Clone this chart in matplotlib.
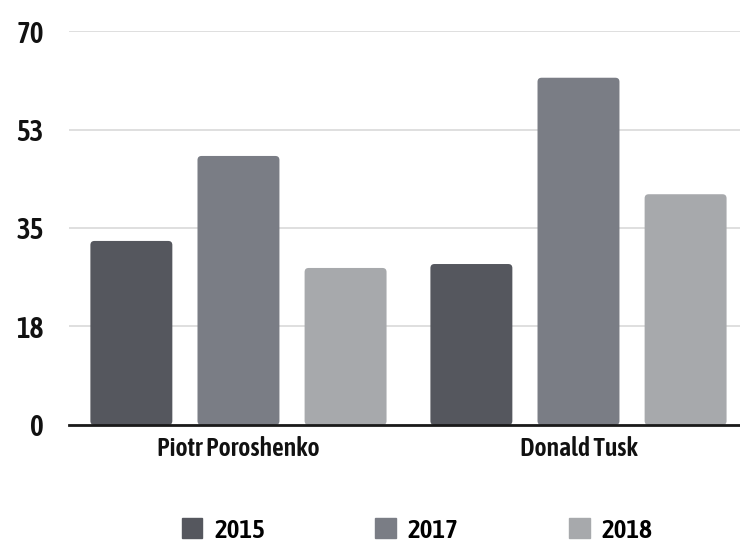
import matplotlib
matplotlib.use("Agg")
import matplotlib.pyplot as plt
from matplotlib import font_manager
from matplotlib.patches import FancyBboxPatch, Patch
import numpy as np

# données
categories = ["Piotr Poroshenko", "Donald Tusk"]
years = ["2015", "2017", "2018"]
values = {
    "2015": [32.7, 28.6],
    "2017": [47.8, 61.7],
    "2018": [27.9, 41.0],
}
ytick_pos = [0, 17.5, 35, 52.5, 70]
ytick_lab = ["0", "18", "35", "53", "70"]

colors = {"2015": "#55575e", "2017": "#7a7d85", "2018": "#a7a9ac"}


def _w(f):
    w = f.weight
    if isinstance(w, str):
        w = {"bold": 700, "semibold": 600, "demibold": 600, "heavy": 800,
             "black": 900, "medium": 500}.get(w.lower(), 400)
    return w


# police étroite demi-grasse si disponible
narrow = [f for f in font_manager.fontManager.ttflist
          if ("narrow" in f.name.lower() or "condensed" in f.name.lower())
          and f.style == "normal"]
cands = sorted([f for f in narrow if 500 <= _w(f) <= 750], key=lambda f: abs(_w(f) - 590))
font_file = None
if cands:
    font_file = cands[0].fname
elif narrow:
    font_file = narrow[0].fname

if font_file:
    fp = font_manager.FontProperties(fname=font_file)
else:
    fp = font_manager.FontProperties(family="DejaVu Sans", weight="bold")
k = 1.0 if font_file else 0.8


def fprop(size):
    p = fp.copy()
    p.set_size(size * k)
    return p


fig = plt.figure(figsize=(7.4, 5.49), dpi=100)
ax = fig.add_axes([0.0932, 0.2259, 0.9068, 0.7176])

x = np.arange(len(categories))
step, width = 0.315, 0.241
for i, yr in enumerate(years):
    bars = ax.bar(x + (i - 1) * step, values[yr], width=width, color=colors[yr], zorder=2)
    # coins arrondis
    for b in bars:
        b.set_visible(False)
        fb = FancyBboxPatch((b.get_x(), 0), b.get_width(), b.get_height(),
                            boxstyle="round,pad=0,rounding_size=0.012",
                            mutation_aspect=60, fc=colors[yr], ec="none", zorder=2)
        ax.add_patch(fb)

ax.set_xlim(-0.4985, 1.475)
ax.set_ylim(0, 70)
ax.set_yticks(ytick_pos)
ax.set_yticklabels(ytick_lab, fontproperties=fprop(21), color="#111111")
ax.set_xticks(x)
ax.set_xticklabels(categories, fontproperties=fprop(18.5), color="#111111")
ax.tick_params(axis="y", length=0, pad=18)
ax.tick_params(axis="x", length=0, pad=8)
ax.grid(axis="y", color="#d9d9d9", lw=1.2, zorder=0)
ax.set_axisbelow(True)
for s in ["top", "right", "left"]:
    ax.spines[s].set_visible(False)
ax.spines["bottom"].set_color("#1a1a1a")
ax.spines["bottom"].set_linewidth(2)
ax.spines["bottom"].set_zorder(3)

handles = [Patch(color=colors[yr], label=yr) for yr in years]
lsize = 19.5 * k
fig.legend(handles=handles, loc="center", bbox_to_anchor=(0.5635, 0.034), ncol=3,
           frameon=False, prop=fprop(19.5), handlelength=15 / lsize, handleheight=15 / lsize,
           handletextpad=8.6 / lsize, columnspacing=(110 if font_file else 118) / 1.389 / lsize)

fig.savefig("out.png", dpi=100)
